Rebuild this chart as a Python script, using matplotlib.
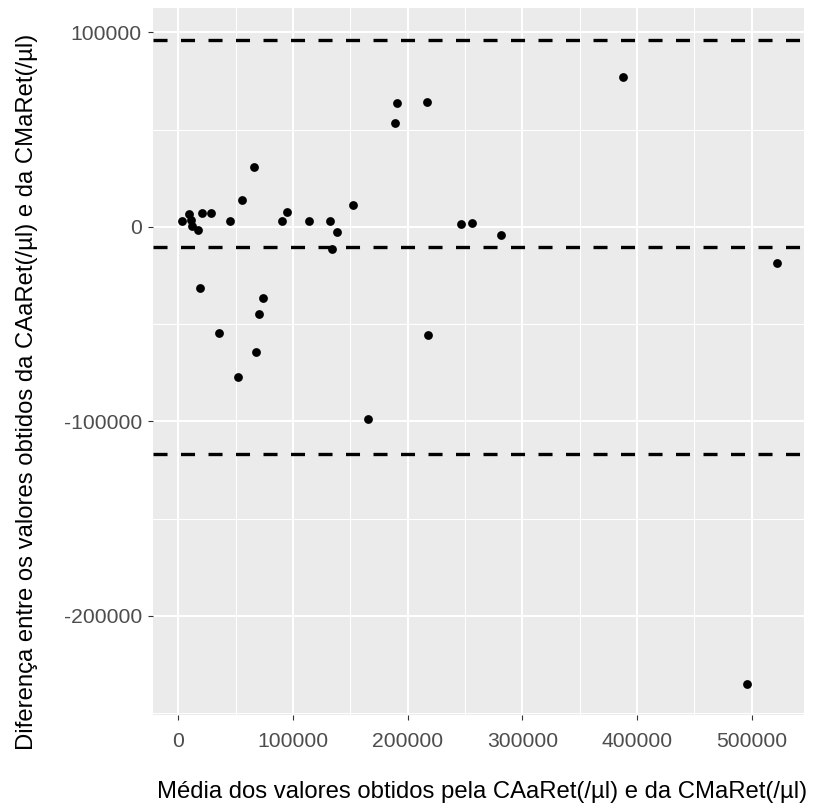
import matplotlib
matplotlib.use("Agg")
import matplotlib.pyplot as plt
from matplotlib.ticker import MultipleLocator

plt.rcParams['font.family'] = ['Liberation Sans', 'DejaVu Sans']
plt.rcParams['axes.unicode_minus'] = False
plt.rcParams['lines.scale_dashes'] = False

# media das duas contagens (eixo x) e diferenca (eixo y)
media = [3500, 9300, 11100, 12200, 17400, 20900, 28500, 45100, 55300, 66000,
         90100, 94500, 19200, 73800, 70600, 35700, 67500, 52300, 114200, 132300,
         138400, 133700, 152000, 190700, 189200, 216600, 246500, 255800, 281100,
         218000, 165100, 388000, 522000, 495400]
diferenca = [3100, 6500, 3400, 500, -1700, 6900, 6900, 3100, 13700, 30900,
             3100, 7600, -31400, -36700, -44800, -54700, -64600, -77300, 2900, 2900,
             -2600, -11500, 11200, 63500, 53500, 64300, 1200, 2100, -4300,
             -55700, -98900, 76900, -18800, -235200]

# vies medio e limites de concordancia
bias = -10300
lim_sup = 96000
lim_inf = -116600

titulo_x = 'Média dos valores obtidos pela CAaRet(/µl) e da CMaRet(/µl)'
titulo_y = 'Diferença entre os valores obtidos da CAaRet(/µl) e da CMaRet(/µl)'

W, H = 814, 810
fig = plt.figure(figsize=(W / 100, H / 100), dpi=100)
ax = fig.add_axes([153.3 / W, 1 - 714.5 / H, (804 - 153.3) / W, (714.5 - 8.3) / H])
ax.set_facecolor('#EBEBEB')
for s in ax.spines.values():
    s.set_visible(False)

ax.xaxis.set_major_locator(MultipleLocator(100000))
ax.xaxis.set_minor_locator(MultipleLocator(50000))
ax.yaxis.set_major_locator(MultipleLocator(100000))
ax.yaxis.set_minor_locator(MultipleLocator(50000))
ax.grid(which='major', color='white', linewidth=1.5)
ax.grid(which='minor', color='white', linewidth=0.75)
ax.set_axisbelow(True)

ax.scatter(media, diferenca, s=40, color='black', linewidths=0, zorder=3)
for yv in [lim_sup, bias, lim_inf]:
    ax.axhline(yv, color='black', linewidth=2.4, dashes=(10.1, 9.7), zorder=4)

ax.set_xlim(-21800, 545500)
ax.set_ylim(-250700, 112300)

ax.tick_params(which='major', length=3.8, width=0.8, color='#333333',
               labelcolor='#4D4D4D', labelsize=15.2)
ax.tick_params(axis='x', pad=8.5)
ax.tick_params(axis='y', pad=4.5)
ax.tick_params(which='minor', length=0)
ax.ticklabel_format(style='plain')

# titulos dos eixos, com tamanho ajustado ao comprimento do original
tx = fig.text(157 / W, 1 - 798 / H, titulo_x, fontsize=17, ha='left', va='baseline')
ty = fig.text(27 / W, 1 - 392.3 / H, titulo_y, fontsize=17, rotation=90,
              ha='center', va='center')
r = fig.canvas.get_renderer()
tx.set_fontsize(17 * 653 / tx.get_window_extent(r).width)
ty.set_fontsize(17 * 718.7 / ty.get_window_extent(r).height)

fig.savefig('out.png', dpi=100)
